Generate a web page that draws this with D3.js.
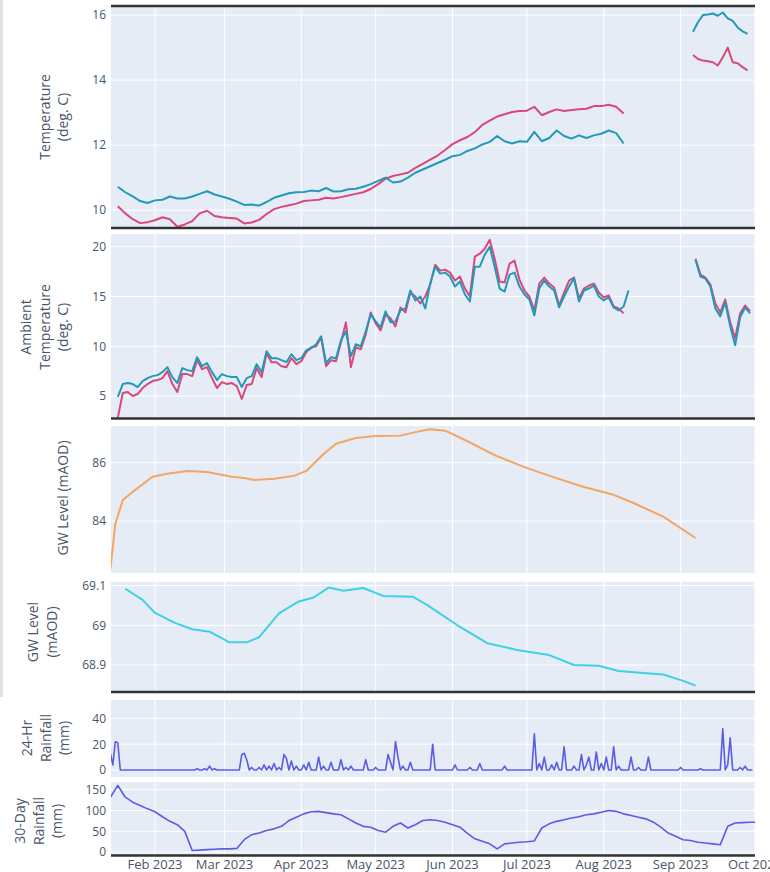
<!DOCTYPE html>
<html>
<head>
<meta charset="utf-8">
<script src="https://cdn.jsdelivr.net/npm/d3@7"></script>
<style>
  body { margin: 0; background: #fff; }
  svg { display: block; }
  text { font-family: "Open Sans", "Noto Sans", sans-serif; }
</style>
</head>
<body>
<svg id="chart" width="770" height="872"></svg>
<script>
// ---------------- data ----------------
// Water temperature, two loggers, every 3 days from 17 Jan, then every 2 days from 6 Sep
const waterTempStart = "2023-01-17";
const waterTempLoggerA = [
  10.12,9.9,9.72,9.6,9.63,9.69,9.78,9.72,9.49,9.56,
  9.66,9.9,9.98,9.82,9.78,9.76,9.74,9.59,9.62,9.7,
  9.88,10.03,10.1,10.15,10.2,10.28,10.3,10.32,10.38,10.36,
  10.4,10.45,10.5,10.55,10.65,10.8,10.97,11.05,11.1,11.15,
  11.3,11.42,11.55,11.68,11.85,12.03,12.15,12.25,12.4,12.62,
  12.75,12.88,12.95,13.02,13.05,13.06,13.18,12.92,13.02,13.1,
  13.05,13.08,13.1,13.12,13.2,13.2,13.24,13.18,12.97
];
const waterTempLoggerB = [
  10.72,10.55,10.42,10.28,10.22,10.3,10.32,10.42,10.36,10.36,
  10.42,10.5,10.58,10.48,10.42,10.35,10.26,10.16,10.17,10.14,
  10.25,10.38,10.45,10.52,10.55,10.56,10.6,10.58,10.68,10.57,
  10.58,10.64,10.66,10.72,10.8,10.9,11.0,10.85,10.88,11.0,
  11.15,11.25,11.35,11.45,11.55,11.66,11.7,11.82,11.9,12.02,
  12.1,12.28,12.12,12.05,12.12,12.1,12.41,12.12,12.22,12.45,
  12.28,12.2,12.3,12.22,12.3,12.35,12.45,12.37,12.05
];
const waterTempLateStart = "2023-09-06";
const waterTempLateA = [14.77,14.65,14.6,14.58,14.55,14.45,14.7,15.0,14.55,14.52,14.4,14.3];
const waterTempLateB = [15.49,15.78,16.0,16.02,16.05,15.98,16.08,15.9,15.82,15.62,15.5,15.42];

// Ambient (air) temperature at the two loggers, every 2 days
const airTempStart = "2023-01-17";
const airTempLoggerA = [
  2.8,5.3,5.4,5.0,5.2,5.8,6.2,6.5,6.6,6.8,
  7.5,6.2,5.4,7.2,7.2,7.0,8.6,7.7,7.9,6.8,
  5.8,6.4,6.2,6.3,6.0,4.7,6.1,6.2,7.8,6.9,
  9.3,8.4,8.4,8.0,7.9,8.8,8.2,8.5,9.4,9.9,
  10.0,10.9,8.0,8.6,8.5,10.4,12.4,7.9,9.9,9.7,
  11.2,13.4,12.3,11.6,13.2,12.8,12.0,13.9,13.4,15.4,
  15.0,14.3,15.0,16.2,18.2,17.6,17.7,17.4,16.6,17.0,
  15.8,15.0,19.0,19.3,19.8,20.7,18.8,16.5,16.4,18.3,
  18.6,16.7,15.6,15.0,13.6,16.3,16.9,16.3,15.9,14.1,
  15.4,16.6,16.9,14.8,15.8,16.1,16.3,15.4,14.9,15.1,
  14.0,13.8,13.3
];
const airTempLoggerB = [
  4.9,6.2,6.3,6.2,5.9,6.5,6.8,7.0,7.1,7.4,
  7.9,6.9,6.3,7.8,7.6,7.5,8.9,8.0,8.3,7.4,
  6.6,7.2,7.0,6.9,6.9,5.9,6.8,7.0,8.2,7.4,
  9.5,8.8,8.8,8.6,8.4,9.2,8.6,8.8,9.6,9.8,
  10.2,11.0,8.3,8.9,8.8,10.6,11.5,9.0,10.2,10.0,
  11.5,13.2,12.5,11.9,13.5,12.4,12.5,13.6,13.8,15.6,
  14.6,15.0,13.8,16.3,18.0,17.3,17.4,17.0,16.0,16.5,
  15.2,14.5,18.0,18.0,19.2,20.0,18.0,15.8,15.5,17.2,
  17.4,16.0,15.2,14.7,13.1,15.8,16.6,16.0,15.6,13.9,
  15.0,16.0,16.8,14.5,15.6,15.8,16.1,15.0,14.6,14.9,
  13.9,13.6,14.0,15.6
];
const airTempLateStart = "2023-09-07";
const airTempLateA = [18.8,17.2,16.9,16.2,14.3,13.4,14.7,12.4,10.8,13.3,14.1,13.5];
const airTempLateB = [18.7,17.0,16.8,16.0,13.8,13.0,14.4,12.0,10.1,12.9,13.9,13.3];

// Groundwater level, borehole 1 (mAOD)
const gw1Dates = ["2023-01-14","2023-01-16","2023-01-19","2023-01-23","2023-01-31","2023-02-06",
  "2023-02-14","2023-02-22","2023-03-04","2023-03-09","2023-03-13","2023-03-21","2023-03-29",
  "2023-04-03","2023-04-10","2023-04-15","2023-04-23","2023-05-01","2023-05-11","2023-05-17",
  "2023-05-23","2023-05-29","2023-06-06","2023-06-18","2023-06-30","2023-07-12","2023-07-24",
  "2023-08-05","2023-08-13","2023-08-25","2023-09-07"];
const gw1Level = [82.35,83.9,84.72,85.0,85.52,85.62,
  85.72,85.68,85.52,85.48,85.41,85.45,85.55,
  85.72,86.3,86.65,86.85,86.92,86.93,87.05,
  87.15,87.1,86.78,86.26,85.85,85.5,85.17,
  84.9,84.62,84.15,83.42];

// Groundwater level, borehole 2 (mAOD)
const gw2Dates = ["2023-01-20","2023-01-27","2023-02-01","2023-02-09","2023-02-16","2023-02-23",
  "2023-03-03","2023-03-10","2023-03-15","2023-03-23","2023-03-31","2023-04-06","2023-04-12",
  "2023-04-18","2023-04-26","2023-05-04","2023-05-16","2023-05-22","2023-06-03","2023-06-15",
  "2023-06-27","2023-07-10","2023-07-20","2023-07-30","2023-08-07","2023-08-17","2023-08-25",
  "2023-09-02","2023-09-07"];
const gw2Level = [69.092,69.064,69.031,69.006,68.99,68.984,
  68.957,68.957,68.97,69.03,69.06,69.07,69.095,
  69.087,69.094,69.074,69.072,69.05,69.0,68.955,
  68.938,68.925,68.9,68.898,68.885,68.88,68.876,
  68.86,68.848];

// Daily rainfall (mm), one value per day from 14 Jan
const rainStart = "2023-01-14";
const rain24h = [
  13,4,22,21,0,0,0,0,0,0,
  0,0,0,0,0,0,0,0,0,0,
  0,0,0,0,0,0,0,0,0,0,
  0,0,0,0,0,1,0,0,1,0,
  3,0,1,0,0,0,0,0,0,0,
  0,0,0,12,13,8,0,2,0,0,
  2,0,4,0,3,0,5,0,2,0,
  12,9,0,7,0,3,0,0,4,0,
  6,0,0,0,10,0,3,0,0,6,
  0,0,0,8,0,2,0,3,0,0,
  0,0,0,8,0,0,0,2,0,0,
  0,0,12,6,0,22,10,0,3,0,
  0,6,0,0,0,0,0,0,0,0,
  20,0,0,0,0,0,0,0,0,4,
  0,0,0,0,0,2,0,0,0,5,
  0,0,0,0,0,0,0,0,0,3,
  0,0,0,0,0,0,0,0,0,0,
  0,28,0,5,0,10,0,0,4,0,
  6,0,0,18,0,0,0,3,0,0,
  12,0,4,10,0,0,14,0,5,0,
  10,0,0,18,0,3,0,0,0,0,
  10,0,0,2,0,0,0,10,0,0,
  0,0,0,0,0,0,0,0,0,0,
  2,0,0,0,0,0,0,0,1,0,
  0,0,0,0,0,0,0,32,0,4,
  25,0,0,0,2,0,3,0,0,0
];

// 30-day rolling rainfall total (mm), every 3 days from 14 Jan
const rain30dStart = "2023-01-14";
const rain30d = [
  132,160,132,120,112,104,97,85,74,66,
  50,4,5,6,7,8,8,9,30,42,
  46,52,56,62,76,84,92,97,98,95,
  92,90,80,70,62,60,52,48,62,70,
  58,66,76,78,76,72,66,60,45,32,
  26,20,8,20,22,24,25,27,58,68,
  74,78,82,85,90,92,96,100,98,92,
  88,84,80,72,60,46,38,30,28,24,
  22,20,18,62,70,71,72,72
];

// ---------------- helpers ----------------
const parse = d3.utcParse("%Y-%m-%d");
const regular = (start, stepDays, values) =>
  values.map((v, k) => ({ date: d3.utcDay.offset(parse(start), k * stepDays), v }));
const paired = (dates, values) => dates.map((d, i) => ({ date: parse(d), v: values[i] }));

const colors = {
  loggerA: "#d9477b",
  loggerB: "#2398b8",
  gw1: "#f5a462",
  gw2: "#3fd0e6",
  rain: "#5a5ce6"
};

// ---------------- layout ----------------
const svg = d3.select("#chart");
const plotLeft = 111, plotRight = 755;
const x = d3.scaleUtc()
  .domain([Date.UTC(2023, 0, 14, 6), Date.UTC(2023, 9, 1)])
  .range([plotLeft, plotRight]);
const monthTicks = x.ticks(d3.utcMonth.every(1));

const panels = [
  { top: 6, bottom: 228, domain: [9.45, 16.28], ticks: [10, 12, 14, 16],
    title: ["Temperature", "(deg. C)"], tx: 54, ty: 117,
    series: [
      { data: regular(waterTempStart, 3, waterTempLoggerA), color: colors.loggerA },
      { data: regular(waterTempStart, 3, waterTempLoggerB), color: colors.loggerB },
      { data: regular(waterTempLateStart, 2, waterTempLateA), color: colors.loggerA },
      { data: regular(waterTempLateStart, 2, waterTempLateB), color: colors.loggerB }
    ] },
  { top: 234, bottom: 418.5, domain: [2.74, 21.28], ticks: [5, 10, 15, 20],
    title: ["Ambient", "Temperature", "(deg. C)"], tx: 45, ty: 327,
    series: [
      { data: regular(airTempStart, 2, airTempLoggerA), color: colors.loggerA },
      { data: regular(airTempStart, 2, airTempLoggerB), color: colors.loggerB },
      { data: regular(airTempLateStart, 2, airTempLateA), color: colors.loggerA },
      { data: regular(airTempLateStart, 2, airTempLateB), color: colors.loggerB }
    ] },
  { top: 426, bottom: 573, domain: [82.22, 87.26], ticks: [84, 86],
    title: ["GW Level (mAOD)"], tx: 63, ty: 498,
    series: [{ data: paired(gw1Dates, gw1Level), color: colors.gw1 }] },
  { top: 582, bottom: 692, domain: [68.832, 69.109], ticks: [68.9, 69, 69.1],
    title: ["GW Level", "(mAOD)"], tx: 42.5, ty: 632,
    series: [{ data: paired(gw2Dates, gw2Level), color: colors.gw2 }] },
  { top: 700, bottom: 777, domain: [-5.4, 54.2], ticks: [0, 20, 40],
    title: ["24-Hr", "Rainfall", "(mm)"], tx: 46, ty: 738, width: 1.6,
    series: [{ data: regular(rainStart, 1, rain24h), color: colors.rain }] },
  { top: 782, bottom: 855.5, domain: [-8, 168.5], ticks: [0, 50, 100, 150],
    title: ["30-Day", "Rainfall", "(mm)"], tx: 39, ty: 821, width: 1.6,
    series: [{ data: regular(rain30dStart, 3, rain30d), color: colors.rain }] }
];

// thin grey edge on the left of the page
svg.append("rect").attr("x", 0).attr("y", 0).attr("width", 3).attr("height", 697)
  .attr("fill", "#e0e0e0");

const tickFmt = d3.format("");
panels.forEach((p, i) => {
  const y = d3.scaleLinear().domain(p.domain).range([p.bottom, p.top]);
  const g = svg.append("g");

  g.append("rect")
    .attr("x", plotLeft).attr("y", p.top)
    .attr("width", plotRight - plotLeft).attr("height", p.bottom - p.top)
    .attr("fill", "#E5ECF6");

  // grid
  g.selectAll(".vgrid").data(monthTicks).join("line")
    .attr("x1", d => x(d)).attr("x2", d => x(d))
    .attr("y1", p.top).attr("y2", p.bottom)
    .attr("stroke", "#fff").attr("stroke-width", 1);
  g.selectAll(".hgrid").data(p.ticks).join("line")
    .attr("x1", plotLeft).attr("x2", plotRight)
    .attr("y1", d => y(d)).attr("y2", d => y(d))
    .attr("stroke", "#fff").attr("stroke-width", 1);

  // y tick labels
  g.selectAll(".ytick").data(p.ticks).join("text")
    .attr("x", 106).attr("y", d => y(d)).attr("dy", "0.36em")
    .attr("text-anchor", "end").attr("font-size", 12).attr("fill", "#4a5568")
    .text(d => tickFmt(d));

  // axis title (rotated, possibly multi-line)
  const n = p.title.length, lh = 18.5;
  const t = g.append("text")
    .attr("transform", `translate(${p.tx},${p.ty}) rotate(-90)`)
    .attr("text-anchor", "middle").attr("font-size", 14).attr("fill", "#4a5568");
  p.title.forEach((line, k) => {
    t.append("tspan").attr("x", 0)
      .attr("y", (k - (n - 1) / 2) * lh).attr("dy", "0.35em").text(line);
  });

  // series
  const clipId = "clip" + i;
  svg.append("clipPath").attr("id", clipId).append("rect")
    .attr("x", plotLeft).attr("y", p.top)
    .attr("width", plotRight - plotLeft).attr("height", p.bottom - p.top);
  const line = d3.line().x(d => x(d.date)).y(d => y(d.v));
  const sg = g.append("g").attr("clip-path", `url(#${clipId})`);
  p.series.forEach(s => {
    sg.append("path").attr("d", line(s.data))
      .attr("fill", "none").attr("stroke", s.color)
      .attr("stroke-width", p.width || 2).attr("stroke-linejoin", "round");
  });
});

// dark frame rules between groups of panels
[6, 228, 418.5, 692, 855.5].forEach(yy => {
  svg.append("line").attr("x1", plotLeft).attr("x2", plotRight)
    .attr("y1", yy).attr("y2", yy)
    .attr("stroke", "#333").attr("stroke-width", 2.5);
});

// shared date axis labels
svg.selectAll(".xtick").data(monthTicks).join("text")
  .attr("x", d => x(d)).attr("y", 864.5).attr("dy", "0.35em")
  .attr("text-anchor", "middle").attr("font-size", 13).attr("fill", "#4a5568")
  .text(d => d3.utcFormat("%b %Y")(d));
</script>
</body>
</html>
